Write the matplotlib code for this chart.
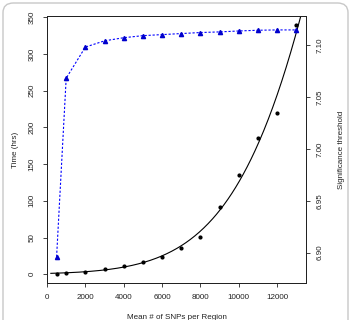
import numpy as np
import matplotlib
matplotlib.use('Agg')
import matplotlib.pyplot as plt
from matplotlib.patches import FancyBboxPatch

# Data
snps = [500, 1000, 2000, 3000, 4000, 5000, 6000, 7000, 8000, 9000, 10000, 11000, 12000, 13000]
time_hrs = [0.8, 1.4, 3.6, 7.2, 11.3, 16.8, 23.6, 35.5, 50.5, 92.2, 135.0, 185.4, 219.5, 339.5]
threshold = [6.896, 7.068, 7.098, 7.104, 7.107, 7.109, 7.110, 7.111, 7.112, 7.1126,
             7.1135, 7.1142, 7.1145, 7.1145]

x_ticks = [0, 2000, 4000, 6000, 8000, 10000, 12000]
y_ticks = [0, 50, 100, 150, 200, 250, 300, 350]
thr_ticks = [6.90, 6.95, 7.00, 7.05, 7.10]

plt.rcParams['font.family'] = ['Liberation Sans', 'DejaVu Sans']

# smooth trend line: weighted quadratic fit on log(time)
coef = np.polyfit(np.array(snps) / 1000.0, np.log(time_hrs), 2,
                  w=np.sqrt(time_hrs))

fig = plt.figure(figsize=(3.51, 3.2), dpi=100)

# light rounded frame around the figure
frame = FancyBboxPatch((3 / 351, -0.2), 345 / 351, 1.2 - 3 / 320,
                       boxstyle='round,pad=0,rounding_size=0.03',
                       transform=fig.transFigure, fill=False,
                       edgecolor='#c8c8c8', linewidth=1.0)
fig.patches.append(frame)

ax = fig.add_axes([47 / 351, 1 - 283.3 / 320, 259 / 351, 267.6 / 320])
ax2 = ax.twinx()

xs = np.linspace(200, 13500, 400)
ax.plot(xs, np.exp(np.polyval(coef, xs / 1000.0)), color='black', lw=0.8)
ax.plot(snps, time_hrs, 'o', color='black', ms=2.0)

ax2.plot(snps, threshold, color='#0000ff', lw=0.8, ls=(0, (2, 1.6)),
         marker='^', ms=3.0, mec='#0000cc', mfc='#0000cc')

ax.set_xlim(0, 13500)
ax.set_ylim(-12.3, 352.2)
ax2.set_ylim(6.8705, 7.1282)

ax.set_xticks(x_ticks)
ax.set_yticks(y_ticks)
ax2.set_yticks(thr_ticks)
ax2.set_yticklabels(['%.2f' % v for v in thr_ticks])

fs = 5.8
ax.tick_params(axis='x', labelsize=fs, length=3, width=0.6, pad=5, colors='#222222')
ax.tick_params(axis='y', labelsize=fs, length=3, width=0.6, pad=5, colors='#222222',
               labelrotation=90)
ax2.tick_params(axis='y', labelsize=fs, length=3, width=0.6, pad=5, colors='#222222',
                labelrotation=90)
for lbl in ax.get_yticklabels() + ax2.get_yticklabels():
    lbl.set_verticalalignment('center')

for a_ in (ax, ax2):
    for s in a_.spines.values():
        s.set_linewidth(0.7)
        s.set_color('#222222')

ax.set_xlabel('Mean # of SNPs per Region', fontsize=fs, labelpad=9, color='#222222')
ax.set_ylabel('Time (hrs)', fontsize=fs, labelpad=7, color='#222222')
ax2.set_ylabel('Significance threshold', fontsize=fs, labelpad=10, color='#222222')

fig.savefig('out.png', dpi=100)
